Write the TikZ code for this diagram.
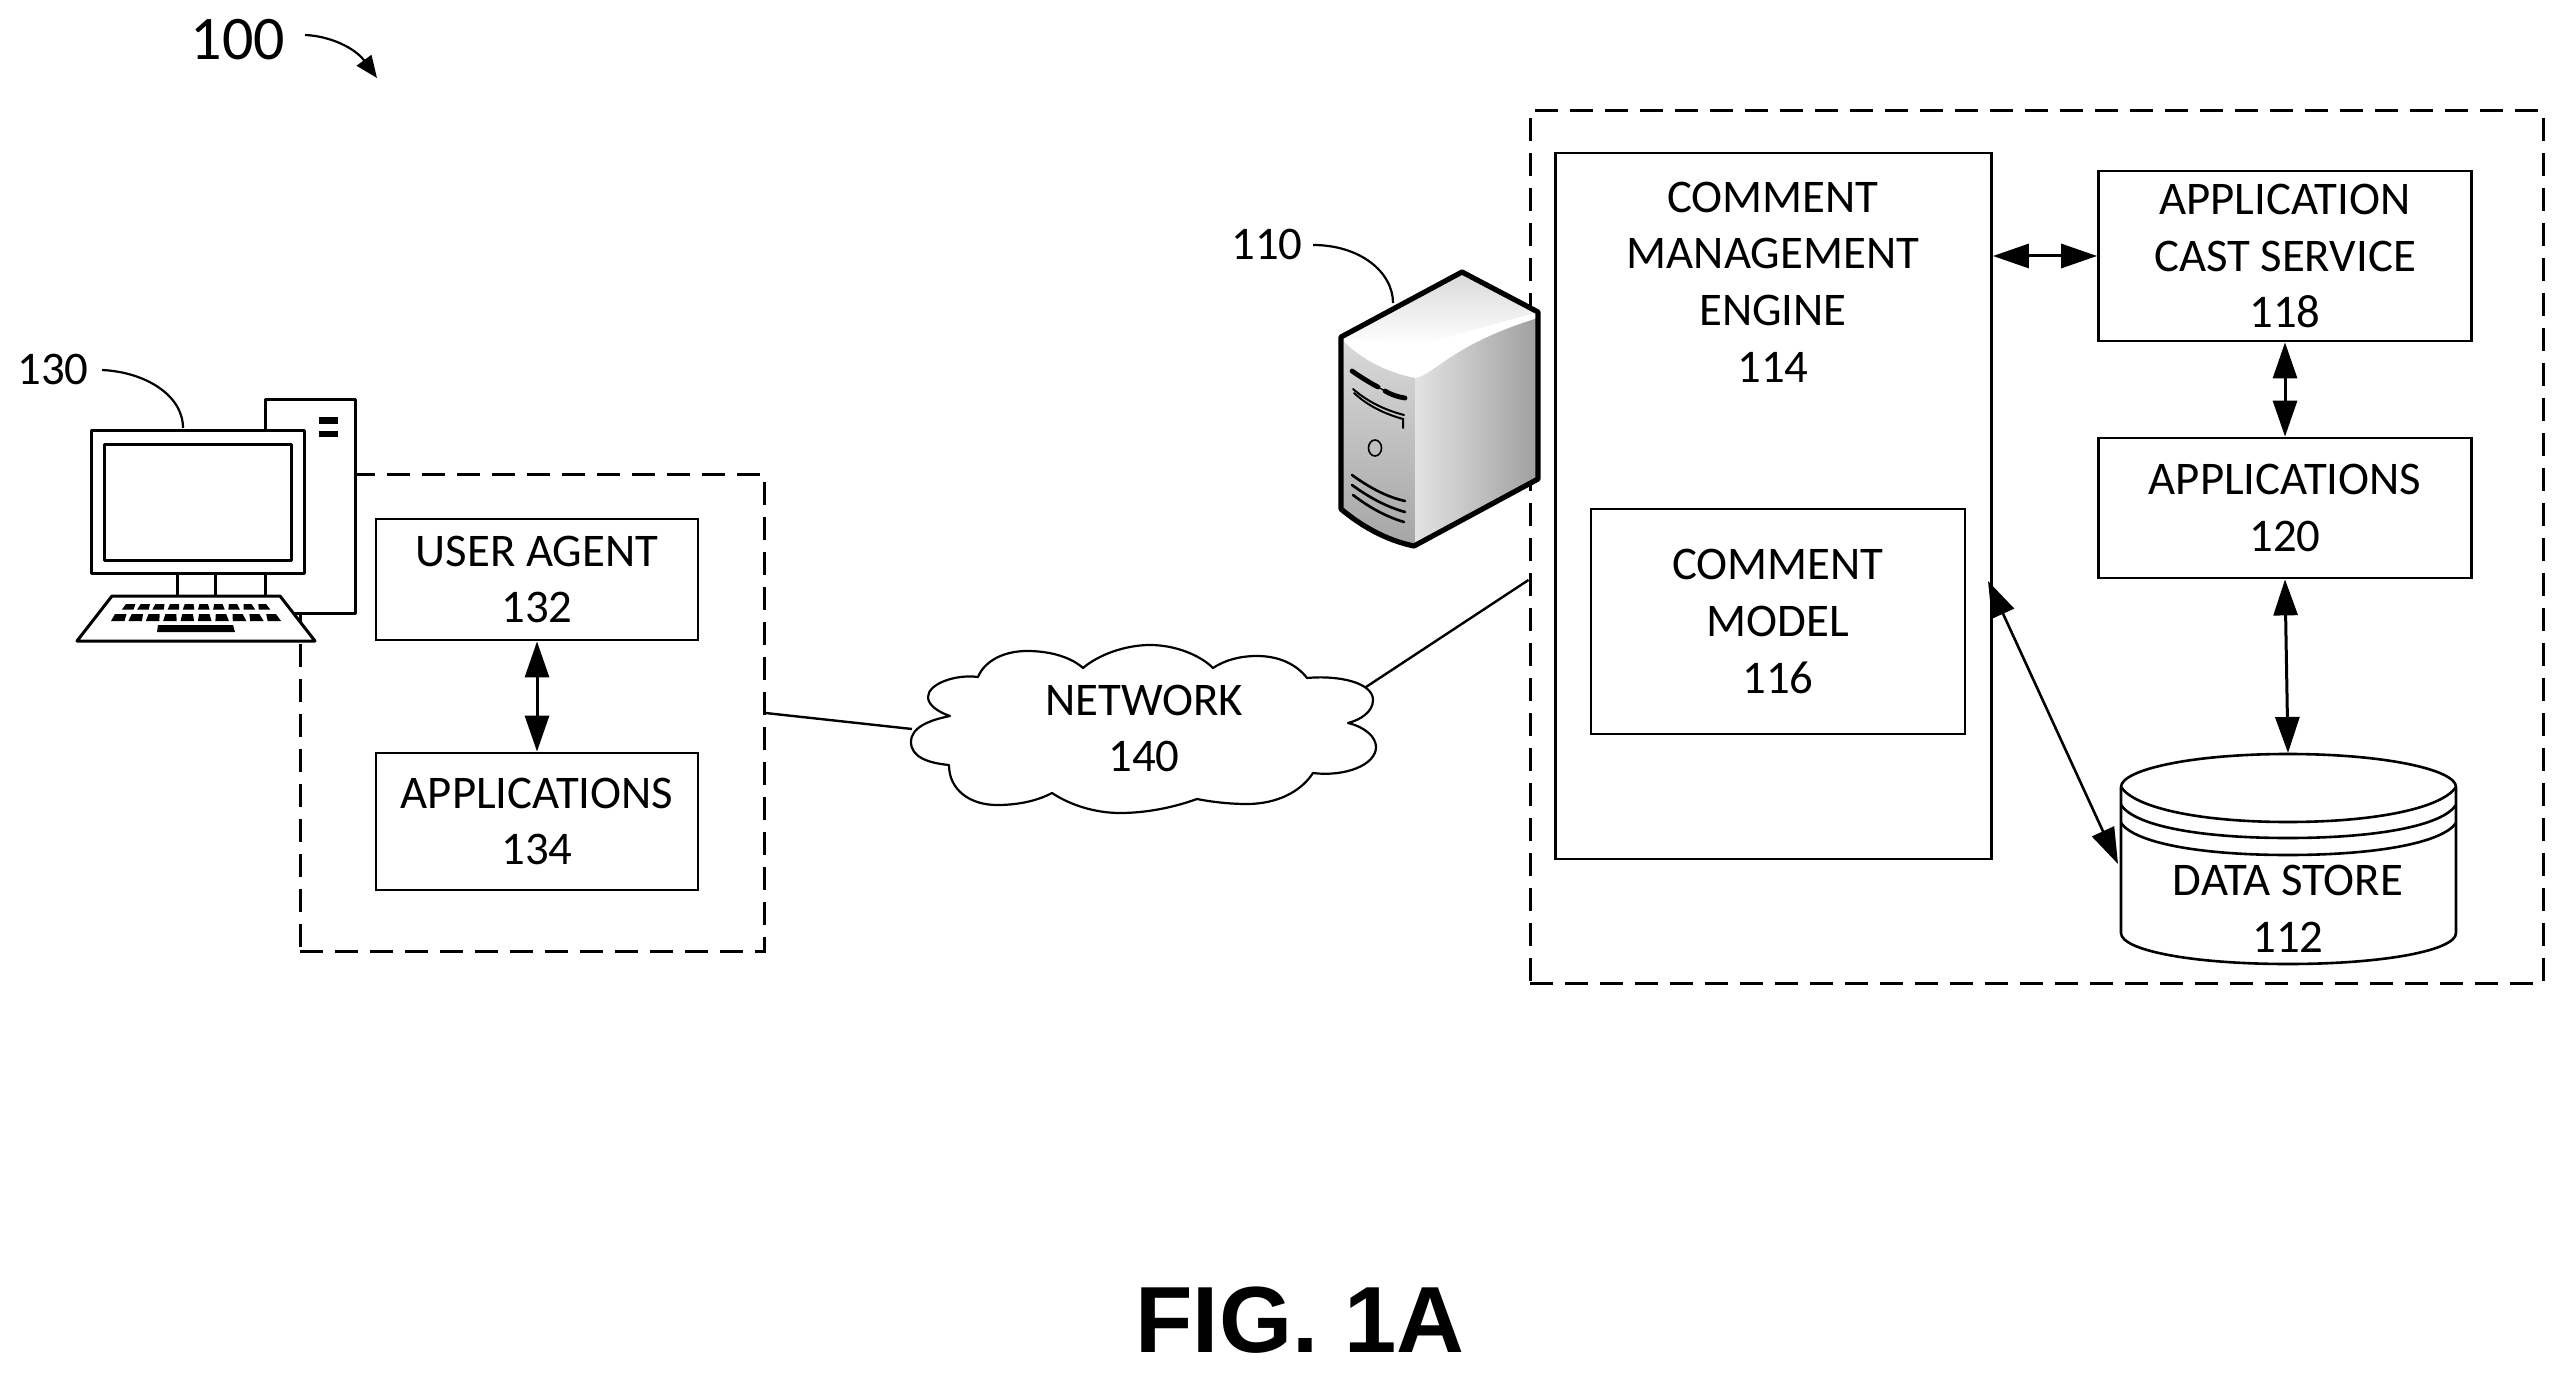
\documentclass[tikz,border=0pt]{standalone}
\usepackage{fontspec}
\setmainfont{Carlito}
\newfontfamily\figfont{Liberation Sans}
\usetikzlibrary{arrows.meta}
\tikzset{
  box/.style={draw,line width=1.4pt,fill=white,inner sep=0pt,align=center,font=\fontsize{23.4}{28.3}\selectfont},
  txt/.style={inner sep=0pt,align=center,font=\fontsize{23.4}{28.3}\selectfont},
  refnum/.style={inner sep=0pt,anchor=base,font=\fontsize{23.4}{28.3}\selectfont},
  dashbox/.style={draw,line width=1.5pt,dash pattern=on 11.5pt off 6pt},
  biarrow/.style={line width=1.5pt,{Triangle[length=18pt,width=12pt]}-{Triangle[length=18pt,width=12pt]}},
  wire/.style={line width=1.2pt},
  leader/.style={line width=1.1pt},
  cpu/.style={draw,line width=1.5pt,fill=white,line join=round},
  cyl/.style={line width=1.3pt},
  slot/.style={line width=1.3pt,line cap=round},
}
\begin{document}
\begin{tikzpicture}[x=0.5pt,y=-0.5pt]
\useasboundingbox (0,0) rectangle (2564,1374);
\fill[white] (0,0) rectangle (2564,1374);

% dashed groups
\node[dashbox,minimum width=232pt,minimum height=238.5pt,inner sep=0pt] (clientgroup) at (532,712.5) {};
\node[dashbox,minimum width=506.5pt,minimum height=436pt,inner sep=0pt] (servergroup) at (2036.5,547) {};

% client boxes
\node[box,minimum width=161pt,minimum height=60.5pt] (agent) at (537,579.5) {USER AGENT\\132};
\node[box,minimum width=161pt,minimum height=68.5pt] (apps) at (537,821.5) {APPLICATIONS\\134};
\draw[biarrow] (agent.south) -- (apps.north);

% computer
\draw[cpu] (265,400) rectangle (355,613);
\fill (319,417) rectangle (338,424);
\fill (319,431) rectangle (338,437);
\draw[cpu] (177,573) rectangle (215,596);
\draw[cpu] (91,431) rectangle (304,573);
\draw[cpu] (104,445) rectangle (291,560);
\draw[cpu] (112,596) -- (280,596) -- (315,641) -- (77,641) -- cycle;
\foreach \i in {0,...,9} {
  \pgfmathsetmacro{\xa}{124+\i*14.7}
  \pgfmathsetmacro{\xb}{\xa+9.5}
  \fill (\xa+2,604) -- (\xb+2-\i*0.2,604) -- (\xb+\i*0.5,609.5) -- (\xa-2+\i*0.5,609.5) -- cycle;
  \pgfmathsetmacro{\xc}{113+\i*16.8}
  \pgfmathsetmacro{\xd}{\xc+11.5}
  \fill (\xc+2,614) -- (\xd+2-\i*0.2,614) -- (\xd+\i*0.6,621) -- (\xc-2+\i*0.6,621) -- cycle;
}
\fill (158,625) -- (233,625) -- (235,632) -- (157,632) -- cycle;

\node[refnum] (n130) at (53,385) {130};
\coordinate (l130a) at (102,370);
\coordinate (l130b) at (183,428);
\draw[leader] (l130a) .. controls (145,372) and (183,395) .. (l130b);

% network
\draw[line width=1.1pt,fill=white,line join=round]
 (950,716) .. controls (938,712) and (928,705) .. (928,697)
 .. controls (928,684) and (955,674) .. (978,677)
 .. controls (985,660) and (1005,651) .. (1027,651)
 .. controls (1052,651) and (1072,658) .. (1083,668)
 .. controls (1098,655) and (1125,645) .. (1150,645)
 .. controls (1175,645) and (1200,655) .. (1213,668)
 .. controls (1225,660) and (1240,656) .. (1257,656)
 .. controls (1280,656) and (1297,665) .. (1307,678)
 .. controls (1340,675) and (1373,683) .. (1373,700)
 .. controls (1373,712) and (1360,720) .. (1348,723)
 .. controls (1365,727) and (1376,737) .. (1376,747)
 .. controls (1376,765) and (1345,777) .. (1313,773)
 .. controls (1300,793) and (1275,804) .. (1247,804)
 .. controls (1230,804) and (1212,802) .. (1197,799)
 .. controls (1172,808) and (1145,813) .. (1120,813)
 .. controls (1095,813) and (1070,805) .. (1052,793)
 .. controls (1035,802) and (1015,805) .. (997,805)
 .. controls (970,805) and (949,790) .. (949,765)
 .. controls (928,763) and (911,757) .. (911,742)
 .. controls (911,727) and (930,720) .. (950,716) -- cycle;
\node[txt] (network) at (1144,728.5) {NETWORK\\140};
\coordinate (netL) at (912,729);
\coordinate (netR) at (1366,687);
\coordinate (grpL) at (clientgroup.east |- 0,713);
\coordinate (grpR) at (servergroup.west |- 0,580);
\draw[wire] (grpL) -- (netL);
\draw[wire] (netR) -- (grpR);

% server
\begin{scope}
  \clip (1462,272) -- (1538,312) -- (1538,479) -- (1414,546)
    .. controls (1385,540) and (1360,525) .. (1341,509) -- (1341,337) -- cycle;
  \fill[white] (1341,272) rectangle (1538,546);
  % top face: faint tone towards the back
  \shade[top color=gray!30!white,bottom color=white] (1341,272) -- (1462,272) -- (1538,312) -- (1420,345) -- (1341,337) -- cycle;
  % front face
  \shade[top color=gray!30!white,bottom color=gray!70!white]
    (1344,342) .. controls (1365,362) and (1390,373) .. (1415,378) -- (1415,546) -- (1341,546) -- cycle;
  % right face
  \shade[left color=gray!22!white,right color=gray!75!white]
    (1415,378) .. controls (1435,375) and (1450,345) .. (1538,318) -- (1538,546) -- (1415,546) -- cycle;
\end{scope}
\draw[line width=2.6pt,line join=round] (1462,272) -- (1538,312) -- (1538,479) -- (1414,546)
    .. controls (1385,540) and (1360,525) .. (1341,509) -- (1341,337) -- cycle;
\draw[line width=2.4pt,line cap=round] (1352,371) .. controls (1362,378) and (1372,384) .. (1378,387);
\draw[line width=2.4pt,line cap=round] (1385,391) .. controls (1392,395) and (1398,397) .. (1405,398);
\draw[line width=0.6pt] (1378,387) -- (1385,391);
\draw[slot,line width=1pt] (1353,389) .. controls (1368,402) and (1385,410) .. (1404,415);
\draw[slot,line width=1pt] (1354,393) .. controls (1368,406) and (1385,414) .. (1403,419) -- (1403,428);
\draw[line width=0.8pt] (1375,448) ellipse (6.5 and 8);
\draw[slot] (1352,475) .. controls (1370,488) and (1387,497) .. (1405,501);
\draw[slot] (1352,485) .. controls (1370,498) and (1387,507) .. (1405,512);
\draw[slot] (1353,495) .. controls (1370,508) and (1387,517) .. (1404,522);
\node[refnum] (n110) at (1267,260) {110};
\coordinate (l110a) at (1313,245);
\coordinate (l110b) at (1393,303);
\draw[leader] (l110a) .. controls (1360,245) and (1393,272) .. (l110b);

% server-side boxes
\node[box,minimum width=218pt,minimum height=353pt] (engine) at (1773.5,506) {};
\node[txt] (enginetext) at (1773,282) {COMMENT\\MANAGEMENT\\ENGINE\\114};
\node[box,minimum width=187pt,minimum height=112.5pt] (model) at (1778,621.5) {COMMENT\\MODEL\\116};
\node[box,minimum width=186.5pt,minimum height=85pt] (cast) at (2285,256) {APPLICATION\\CAST SERVICE\\118};
\node[box,minimum width=186.5pt,minimum height=70pt] (apps2) at (2285,508) {APPLICATIONS\\120};

% data store
\draw[cyl,fill=white] (2121,787) .. controls (2121,770) and (2190,754) .. (2288,754)
  .. controls (2386,754) and (2456,770) .. (2456,787) -- (2456,933)
  .. controls (2456,950) and (2386,964) .. (2288,964)
  .. controls (2190,964) and (2121,950) .. (2121,933) -- cycle;
\draw[cyl] (2121,787) .. controls (2135,808) and (2200,822) .. (2288,822) .. controls (2376,822) and (2442,808) .. (2456,787);
\draw[cyl] (2121,805) .. controls (2135,826) and (2200,838) .. (2288,838) .. controls (2376,838) and (2442,826) .. (2456,805);
\draw[cyl] (2121,823) .. controls (2135,843) and (2200,855) .. (2288,855) .. controls (2376,855) and (2442,843) .. (2456,823);
\node[txt] (store) at (2288,909) {DATA STORE\\112};
\coordinate (storetop) at (2288,753);
\coordinate (storeleft) at (2118,864);
\coordinate (engineright) at (1988,581);

\draw[biarrow] (engine.east |- cast.west) -- (cast.west);
\draw[biarrow] (cast.south) -- (apps2.north);
\draw[biarrow] (apps2.south) -- (storetop);
\draw[biarrow,line width=1.3pt] (engineright) -- (storeleft);

% titles
\node[refnum,font=\fontsize{31}{36}\selectfont] (n100) at (238,60) {100};
\coordinate (a100) at (305,35);
\coordinate (b100) at (377,78);
\draw[line width=1.1pt,-{Triangle[length=11pt,width=9pt]}] (a100) .. controls (330,36) and (355,48) .. (b100);
\node[inner sep=0pt,anchor=base,font=\figfont\bfseries\fontsize{47}{52}\selectfont] (fig) at (1300,1352) {FIG. 1A};
\end{tikzpicture}
\end{document}
